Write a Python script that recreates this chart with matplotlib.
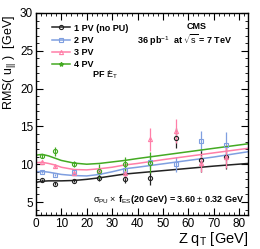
import numpy as np
import matplotlib
matplotlib.use("Agg")
import matplotlib.pyplot as plt
from matplotlib.ticker import MultipleLocator

plt.rcParams['font.family'] = ['Liberation Sans', 'DejaVu Sans']
plt.rcParams['mathtext.fontset'] = 'custom'
plt.rcParams['mathtext.rm'] = 'Liberation Sans'
plt.rcParams['mathtext.it'] = 'Liberation Sans'
plt.rcParams['mathtext.bf'] = 'Liberation Sans:bold'

# --- data ---
bin_x = [2.5, 7.5, 15, 25, 35, 45, 55, 65, 75]

pv1_y = [7.9, 7.4, 7.8, 8.2, 8.1, 8.2, 13.5, 10.5, 11.0]
pv1_err = [0.2, 0.2, 0.2, 0.4, 0.6, 0.9, 1.3, 1.5, 1.6]

pv2_y = [9.0, 8.6, 9.0, 9.0, 9.2, 10.3, 10.0, 13.1, 12.6]
pv2_err = [0.15, 0.15, 0.2, 0.5, 0.8, 0.9, 1.0, 1.3, 1.6]

pv3_y = [10.3, 9.7, 8.9, 9.3, 8.9, 13.3, 14.4, 10.1, 11.0]
pv3_err = [0.2, 0.2, 0.25, 0.5, 0.7, 1.5, 1.6, 1.1, 1.5]

pv4_x = [2.5, 7.5, 15, 25, 35, 45]
pv4_y = [11.1, 11.7, 10.0, 9.1, 10.0, 10.2]
pv4_err = [0.3, 0.6, 0.4, 0.9, 1.0, 1.4]

# fitted curves, read at a set of qT values
fit_x = [0, 2.5, 5, 7.5, 10, 15, 20, 25, 30, 35, 40, 50, 60, 70, 83.5]
fit_pv1 = [7.6, 7.75, 7.8, 7.8, 7.8, 7.85, 8.0, 8.2, 8.45, 8.7, 8.85, 9.15, 9.45, 9.75, 10.1]
fit_pv2 = [9.0, 9.05, 8.95, 8.8, 8.65, 8.5, 8.45, 8.65, 9.0, 9.4, 9.6, 10.05, 10.5, 10.95, 11.65]
fit_pv3 = [10.2, 10.25, 10.1, 9.9, 9.6, 9.3, 9.25, 9.4, 9.6, 9.9, 10.1, 10.6, 11.05, 11.5, 12.1]
fit_pv4 = [11.2, 11.3, 11.1, 10.8, 10.5, 10.15, 10.0, 10.1, 10.3, 10.5, 10.75, 11.2, 11.65, 12.1, 12.7]

labels = ['1 PV (no PU)', '2 PV', '3 PV', '4 PV']
colors = ['#222222', '#7f9fe0', '#ff7fa8', '#44aa22']

fig = plt.figure(figsize=(2.6, 2.49), dpi=100)
ax = fig.add_axes([0.138, 0.137, 0.816, 0.811])

series = [
    (bin_x, pv1_y, pv1_err, fit_pv1, 'o'),
    (bin_x, pv2_y, pv2_err, fit_pv2, 's'),
    (bin_x, pv3_y, pv3_err, fit_pv3, '^'),
    (pv4_x, pv4_y, pv4_err, fit_pv4, 'o'),
]
handles = []
for (x, y, e, fit, mk), lab, col in zip(series, labels, colors):
    ax.errorbar(x, y, yerr=e, fmt=mk, ms=3, mfc='none', mec=col, mew=0.8,
                ecolor=col, elinewidth=0.9, capsize=0, color=col)
    ax.plot(fit_x, fit, color=col, lw=1.1)
    if lab == '4 PV':
        h, = ax.plot([], [], color=col, lw=1.1, marker='*', ms=3, mfc=col, mec=col)
    else:
        h, = ax.plot([], [], color=col, lw=1.1, marker=mk, ms=3, mfc='none',
                     mec=col, mew=0.8)
    handles.append(h)

ax.set_xlim(0, 83.5)
ax.set_ylim(3.3, 30)
ax.xaxis.set_major_locator(MultipleLocator(10))
ax.xaxis.set_minor_locator(MultipleLocator(2))
ax.yaxis.set_major_locator(MultipleLocator(5))
ax.yaxis.set_minor_locator(MultipleLocator(1))
ax.tick_params(which='both', direction='in', top=True, right=True, labelsize=8.5, pad=2)
ax.tick_params(which='major', length=5, width=0.8)
ax.tick_params(which='minor', length=2.5, width=0.6)
for sp in ax.spines.values():
    sp.set_linewidth(1.0)

ax.set_xlabel(r'Z q$_T$ [GeV]', fontsize=10.5, ha='right', x=1.0, labelpad=0)
ax.set_ylabel(r'RMS( u$_{||}$ )  [GeV]', fontsize=9, ha='right', y=0.99, labelpad=1)

leg = ax.legend(handles, labels, loc='upper left', bbox_to_anchor=(0.06, 0.965),
                frameon=False, fontsize=6.5, handlelength=2.0, handletextpad=0.4,
                labelspacing=0.35, borderaxespad=0)
for t in leg.get_texts():
    t.set_fontweight('bold')

ax.text(0.265, 0.695, r'PF $\;\not\!E_{T}$', transform=ax.transAxes,
        fontsize=6.5, fontweight='bold', ha='left', va='center')

ax.text(0.76, 0.935, 'CMS', transform=ax.transAxes, fontsize=6.5,
        fontweight='bold', ha='center', va='center')
ax.text(0.70, 0.865, r'36 pb$^{-1}$  at $\sqrt{s}$ = 7 TeV', transform=ax.transAxes,
        fontsize=6.5, fontweight='bold', ha='center', va='center')

ax.text(0.98, 0.045, r'$\sigma_{PU}\times$ f$_{ES}$(20 GeV) = 3.60 $\pm$ 0.32 GeV',
        transform=ax.transAxes, fontsize=6.5, fontweight='bold', ha='right', va='bottom')

fig.savefig('out.png', dpi=100)
